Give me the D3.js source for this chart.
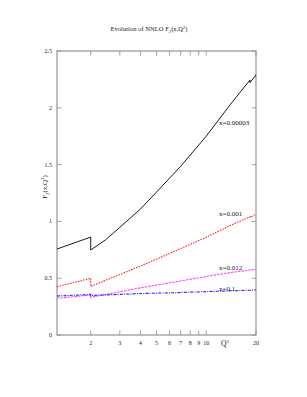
<!DOCTYPE html>
<html>
<head>
<meta charset="utf-8">
<script src="https://cdn.jsdelivr.net/npm/d3@7"></script>
<style>
  body { margin: 0; background: #fff; }
  text { font-family: "Liberation Serif", "DejaVu Serif", serif; fill: #222; }
</style>
</head>
<body>
<script>
// frame
const W = 307, H = 397;
const margin = {top: 51, right: 51, bottom: 62, left: 57},
    width = W - margin.left - margin.right,
    height = H - margin.top - margin.bottom;

// data (Q2 and F2 per curve, the doubled Q2 values are the threshold jumps)
const q2Black = [1.25, 2, 2, 2.45, 3, 4, 5, 7, 10, 14, 18.4, 18.4, 20];
const f2Black = [0.757, 0.862, 0.748, 0.836, 0.948, 1.109, 1.258, 1.485, 1.75, 2.03, 2.245, 2.222, 2.29];

const q2Red = [1.25, 2, 2, 3, 4, 6.34, 10, 14, 18.4, 18.4, 20];
const f2Red = [0.425, 0.499, 0.428, 0.533, 0.607, 0.733, 0.86, 0.965, 1.04, 1.035, 1.065];

const q2Magenta = [1.25, 2, 2, 4, 6.34, 10, 14, 20];
const f2Magenta = [0.323, 0.352, 0.332, 0.415, 0.465, 0.515, 0.55, 0.578];

const q2Blue = [1.25, 2, 2, 4, 6.34, 10, 20];
const f2Blue = [0.343, 0.357, 0.348, 0.365, 0.372, 0.382, 0.396];

const curveLabels = ["x=0.00003", "x=0.001", "x=0.012", "x=0.1"];
const labelY = [1.849, 1.048, 0.572, 0.387];

const xTicks = [2, 3, 4, 5, 6, 7, 8, 9, 10, 20];
const yTicks = [0, 0.5, 1, 1.5, 2, 2.5];

const series = [
    {q: q2Black, f: f2Black, color: "#000000", dash: null},
    {q: q2Red, f: f2Red, color: "#ff2020", dash: "1.5,1.2"},
    {q: q2Magenta, f: f2Magenta, color: "#ff40ff", dash: "2.5,1"},
    {q: q2Blue, f: f2Blue, color: "#2020ff", dash: "3,1.2,1,1.2"}
];

const x = d3.scaleLog().domain([1.25, 20]).range([0, width]);
const y = d3.scaleLinear().domain([0, 2.5]).range([height, 0]);

const svg = d3.select("body").append("svg")
    .attr("width", W)
    .attr("height", H);

const g = svg.append("g")
    .attr("transform", "translate(" + margin.left + "," + margin.top + ")");

// title
svg.append("text")
    .attr("x", 149)
    .attr("y", 31)
    .attr("text-anchor", "middle")
    .style("font-size", "6.6px")
    .html('Evolution of NNLO F<tspan font-size="4.6px" dy="1.5">2</tspan><tspan dy="-1.5">(x,Q</tspan><tspan font-size="4.6px" dy="-2.5">2</tspan><tspan dy="2.5">)</tspan>');

// y label
svg.append("text")
    .attr("transform", "translate(47,187) rotate(-90)")
    .attr("text-anchor", "middle")
    .style("font-size", "7px")
    .html('F<tspan font-size="4.8px" dy="1.5">2</tspan><tspan dy="-1.5">(x,Q</tspan><tspan font-size="4.8px" dy="-2.6">2</tspan><tspan dy="2.6">)</tspan>');

// ticks, inward on all four sides
const tickLen = 4.5;
const frameColor = "#8a8a8a";

xTicks.forEach(function (t) {
    g.append("line")
        .attr("x1", x(t)).attr("x2", x(t))
        .attr("y1", height).attr("y2", height - tickLen)
        .attr("stroke", frameColor).attr("stroke-width", 0.8);
    g.append("line")
        .attr("x1", x(t)).attr("x2", x(t))
        .attr("y1", 0).attr("y2", tickLen)
        .attr("stroke", frameColor).attr("stroke-width", 0.8);
    g.append("text")
        .attr("x", x(t))
        .attr("y", height + 10)
        .attr("text-anchor", "middle")
        .style("font-size", "6px")
        .text(t);
});

yTicks.forEach(function (t) {
    g.append("line")
        .attr("x1", 0).attr("x2", tickLen)
        .attr("y1", y(t)).attr("y2", y(t))
        .attr("stroke", frameColor).attr("stroke-width", 0.8);
    g.append("line")
        .attr("x1", width).attr("x2", width - tickLen)
        .attr("y1", y(t)).attr("y2", y(t))
        .attr("stroke", frameColor).attr("stroke-width", 0.8);
    g.append("text")
        .attr("x", -5)
        .attr("y", y(t) + 2)
        .attr("text-anchor", "end")
        .style("font-size", "6px")
        .text(t);
});

// Q2 axis label
g.append("text")
    .attr("x", 168)
    .attr("y", height + 11)
    .attr("text-anchor", "middle")
    .style("font-size", "7.5px")
    .html('Q<tspan font-size="5px" dy="-3">2</tspan>');

// frame
g.append("rect")
    .attr("x", 0).attr("y", 0)
    .attr("width", width).attr("height", height)
    .attr("fill", "none")
    .attr("stroke", frameColor)
    .attr("stroke-width", 1.1);

// curves
const line = d3.line()
    .x(function (d) { return x(d[0]); })
    .y(function (d) { return y(d[1]); });

series.forEach(function (s) {
    const pts = s.q.map(function (q, i) { return [q, s.f[i]]; });
    g.append("path")
        .datum(pts)
        .attr("d", line)
        .attr("fill", "none")
        .attr("stroke", s.color)
        .attr("stroke-width", s.dash ? 1.1 : 0.9)
        .attr("stroke-dasharray", s.dash);
});

// curve labels
curveLabels.forEach(function (lab, i) {
    g.append("text")
        .attr("x", 162)
        .attr("y", y(labelY[i]))
        .style("font-size", "7px")
        .text(lab);
});
</script>
</body>
</html>
